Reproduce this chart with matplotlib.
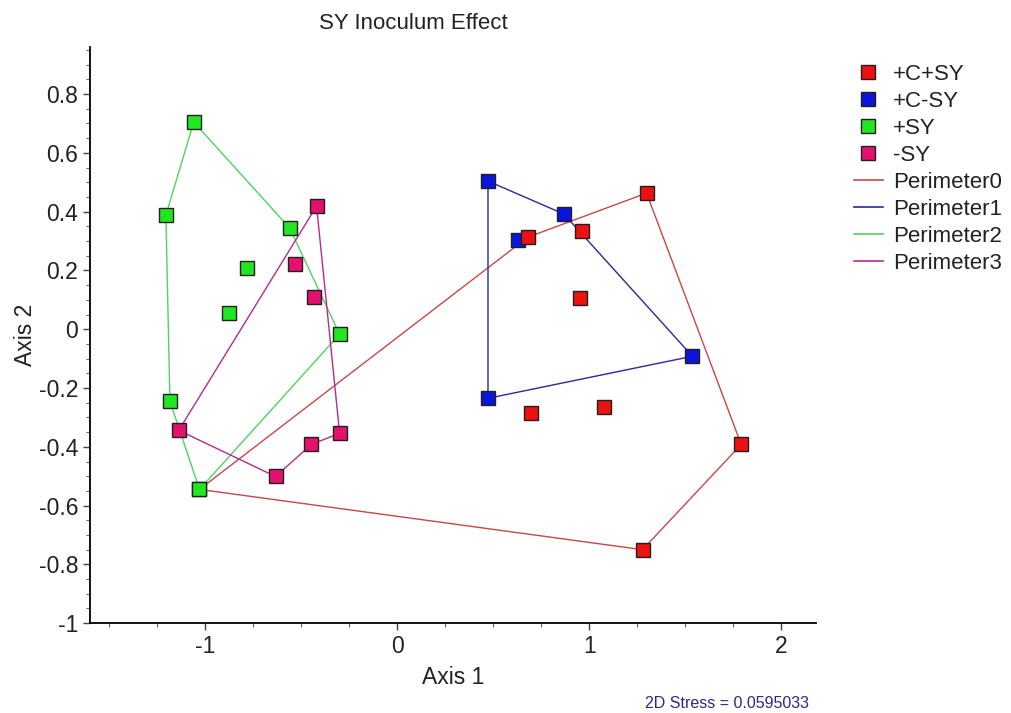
import matplotlib
matplotlib.use('Agg')
import matplotlib.pyplot as plt
from matplotlib.ticker import MultipleLocator, FormatStrFormatter
from matplotlib.lines import Line2D

plt.rcParams['font.family'] = ['Liberation Sans', 'DejaVu Sans']

# group points (Axis 1, Axis 2)
ccsy_x = [-1.03, 0.68, 1.299, 0.961, 0.951, 0.696, 1.075, 1.792, 1.278]
ccsy_y = [-0.545, 0.313, 0.463, 0.334, 0.106, -0.286, -0.266, -0.392, -0.75]
cnsy_x = [0.473, 0.868, 0.629, 1.538, 0.473]
cnsy_y = [0.504, 0.392, 0.303, -0.092, -0.235]
psy_x = [-1.06, -1.205, -0.56, -0.784, -0.878, -0.30, -1.184, -1.03]
psy_y = [0.705, 0.388, 0.344, 0.208, 0.055, -0.017, -0.245, -0.545]
nsy_x = [-0.42, -0.535, -0.436, -1.138, -0.30, -0.447, -0.634]
nsy_y = [0.419, 0.221, 0.109, -0.344, -0.354, -0.392, -0.501]

# hull vertex order (indices into each group)
hull0 = [0, 1, 2, 7, 8, 0]
hull1 = [0, 1, 3, 4, 0]
hull2 = [0, 2, 5, 7, 6, 1, 0]
hull3 = [0, 3, 6, 5, 4, 0]

groups = ['+C+SY', '+C-SY', '+SY', '-SY']
fills = ['#ee1111', '#0a14dd', '#22e622', '#e3126c']
perims = ['Perimeter0', 'Perimeter1', 'Perimeter2', 'Perimeter3']
pcolors = ['#c84848', '#2a2a98', '#4fd45f', '#b82a8e']

fig = plt.figure(figsize=(10.12, 7.13), dpi=100)
ax = fig.add_axes([0.089, 0.126, 0.717, 0.808])

data = [(ccsy_x, ccsy_y, hull0), (cnsy_x, cnsy_y, hull1),
        (psy_x, psy_y, hull2), (nsy_x, nsy_y, hull3)]
zpts = [4, 3, 5, 6]

for i, (xs, ys, hull) in enumerate(data):
    ax.plot([xs[k] for k in hull], [ys[k] for k in hull], color=pcolors[i],
            lw=1.0, zorder=2)
    ax.plot(xs, ys, ls='none', marker='s', ms=10, mfc=fills[i], mec='#202020',
            mew=1.0, zorder=zpts[i])

ax.set_xlim(-1.6, 2.18)
ax.set_ylim(-1.0, 0.96)
ax.spines['top'].set_visible(False)
ax.spines['right'].set_visible(False)
ax.spines['left'].set_linewidth(1.3)
ax.spines['bottom'].set_linewidth(1.3)
ax.xaxis.set_major_locator(MultipleLocator(1))
ax.xaxis.set_minor_locator(MultipleLocator(0.25))
ax.yaxis.set_major_locator(MultipleLocator(0.2))
ax.yaxis.set_minor_locator(MultipleLocator(0.05))
ax.xaxis.set_major_formatter(FormatStrFormatter('%g'))
ax.yaxis.set_major_formatter(plt.FuncFormatter(lambda v, p: '%g' % round(v, 2)))
ax.tick_params(which='major', length=5, width=1, labelsize=16.5, color='#444444',
               labelcolor='#222222')
ax.tick_params(which='minor', length=3, width=0.8, color='#666666')

ax.set_xlabel('Axis 1', fontsize=16.5, labelpad=6, color='#222222')
ax.set_ylabel('Axis 2', fontsize=16.5, labelpad=1, color='#222222')
fig.text(0.408, 0.967, 'SY Inoculum Effect', fontsize=16, ha='center', va='center',
         color='#222222')
fig.text(0.637, 0.014, '2D Stress = 0.0595033', fontsize=11.5, color='#2a2a8a',
         ha='left', va='center')

handles = []
for i in range(4):
    handles.append(Line2D([], [], ls='none', marker='s', ms=10, mfc=fills[i],
                          mec='#202020', mew=1.0, label=groups[i]))
for i in range(4):
    handles.append(Line2D([], [], color=pcolors[i], lw=1.2, label=perims[i]))
fig.legend(handles=handles, loc='upper left', bbox_to_anchor=(0.824, 0.938),
           frameon=False, fontsize=16, handlelength=1.3, handletextpad=0.45,
           labelspacing=0.27, labelcolor='#222222')

fig.savefig('out.png', dpi=100)
